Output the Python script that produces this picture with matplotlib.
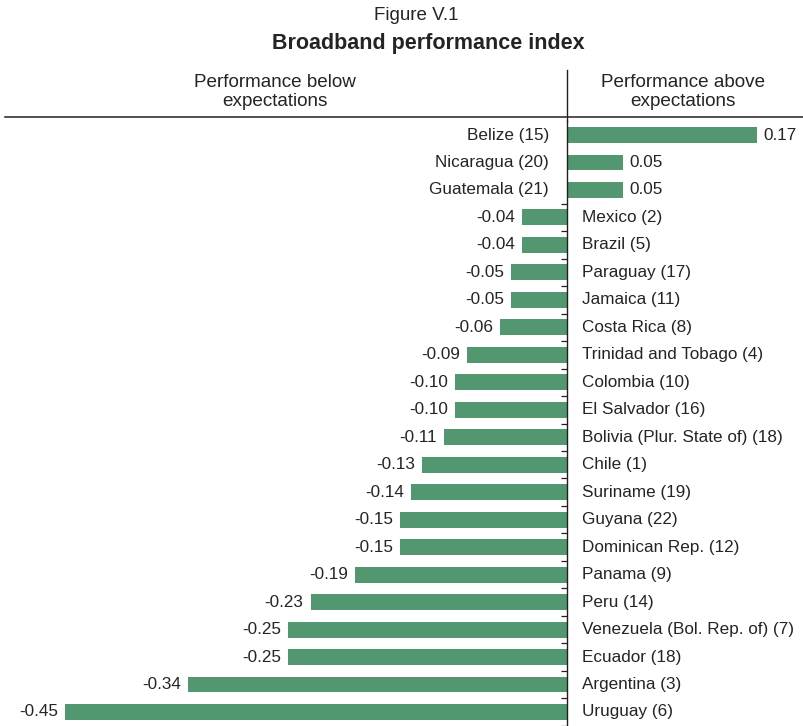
import matplotlib
matplotlib.use("Agg")
import matplotlib.pyplot as plt
from matplotlib.lines import Line2D
import numpy as np

plt.rcParams['font.family'] = ['Liberation Sans', 'DejaVu Sans']

countries = [
    "Belize (15)", "Nicaragua (20)", "Guatemala (21)", "Mexico (2)", "Brazil (5)",
    "Paraguay (17)", "Jamaica (11)", "Costa Rica (8)", "Trinidad and Tobago (4)",
    "Colombia (10)", "El Salvador (16)", "Bolivia (Plur. State of) (18)", "Chile (1)",
    "Suriname (19)", "Guyana (22)", "Dominican Rep. (12)", "Panama (9)", "Peru (14)",
    "Venezuela (Bol. Rep. of) (7)", "Ecuador (18)", "Argentina (3)", "Uruguay (6)",
]
values = [
    0.17, 0.05, 0.05, -0.04, -0.04, -0.05, -0.05, -0.06, -0.09, -0.10, -0.10,
    -0.11, -0.13, -0.14, -0.15, -0.15, -0.19, -0.23, -0.25, -0.25, -0.34, -0.45,
]
header_left = "Performance below\nexpectations"
header_right = "Performance above\nexpectations"
fig_title = "Figure V.1"
chart_title = "Broadband performance index"

W, H = 804, 726
DPI = 100
bar_color = "#52976f"
text_color = "#262324"
line_color = "#231f20"

fig = plt.figure(figsize=(W / DPI, H / DPI), dpi=DPI)

# plotting area: full width, below the header rule
ax_top_px, ax_bot_px = 121, 726
ax = fig.add_axes([0, 1 - ax_bot_px / H, 1, (ax_bot_px - ax_top_px) / H])

zero_px = 567
px_per_unit = 1115.0
xmin = -zero_px / px_per_unit
xmax = (W - zero_px) / px_per_unit
ax.set_xlim(xmin, xmax)

n = len(countries)
y = np.arange(n)
ax.set_ylim(n - 0.49, -0.51)

ax.barh(y, values, height=0.58, color=bar_color, zorder=2)

gap = 7 / px_per_unit
name_gap = 15 / px_per_unit
fs = 12.3
for yi, name, v in zip(y, countries, values):
    lab = f"{v:.2f}"
    if v >= 0:
        ax.text(v + gap, yi, lab, ha="left", va="center", fontsize=fs, color=text_color)
        ax.text(-name_gap - 3 / px_per_unit, yi, name, ha="right", va="center", fontsize=fs, color=text_color)
    else:
        ax.text(v - gap, yi, lab, ha="right", va="center", fontsize=fs, color=text_color)
        ax.text(name_gap, yi, name, ha="left", va="center", fontsize=fs, color=text_color)

# zero axis with small separators between the negative rows
for s in ["top", "right", "bottom"]:
    ax.spines[s].set_visible(False)
ax.spines["left"].set_position(("data", 0))
ax.spines["left"].set_color(line_color)
ax.spines["left"].set_linewidth(1.0)
ax.spines["left"].set_zorder(3)
first_neg = next(i for i, v in enumerate(values) if v < 0)
ax.set_yticks(np.arange(first_neg - 0.5, n, 1.0))
ax.tick_params(axis="y", direction="out", length=4, width=0.9, color=line_color, labelleft=False)
ax.set_xticks([])

# header rule and the axis line continued up through the header
fig.add_artist(Line2D([5 / W, 1], [1 - 117 / H, 1 - 117 / H], color=line_color, lw=1.1))
fig.add_artist(Line2D([zero_px / W, zero_px / W], [1 - 70 / H, 1 - ax_top_px / H], color=line_color, lw=1.0))

fig.text(275 / W, 1 - 92 / H, header_left, ha="center", va="center", fontsize=13.6,
         color=text_color, linespacing=1.2)
fig.text(683 / W, 1 - 92 / H, header_right, ha="center", va="center", fontsize=13.6,
         color=text_color, linespacing=1.2)

fig.text(416 / W, 1 - 15 / H, fig_title, ha="center", va="center", fontsize=13.5, color=text_color)
fig.text(428 / W, 1 - 43 / H, chart_title, ha="center", va="center", fontsize=15.5,
         fontweight="bold", color=text_color)

fig.savefig("out.png", dpi=DPI)
